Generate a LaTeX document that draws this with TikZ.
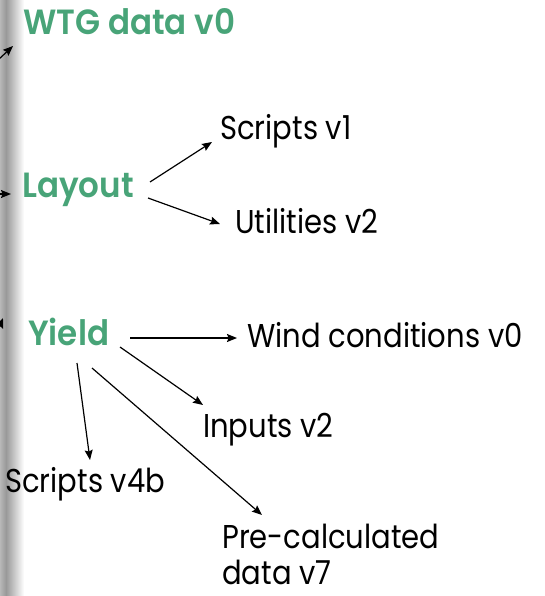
\documentclass[tikz,border=0pt]{standalone}
\usepackage{fontspec}
\setmainfont{Poppins}
\newfontfamily\topicfont{Poppins SemiBold}[FakeStretch=0.93]
\newfontfamily\itemfont{Poppins}[FakeStretch=0.88]
\usepackage{tikz}
\usetikzlibrary{arrows.meta}

\definecolor{leafgreen}{RGB}{72,164,120}

\begin{document}
\begin{tikzpicture}[x=1pt,y=-1pt]
          \tikzstyle{every node}+=[inner sep=0pt,anchor=base west]
          \tikzstyle{topic}=[text=leafgreen,font=\topicfont\fontsize{35}{37}\selectfont]
          \tikzstyle{item}=[text=black,font=\itemfont\fontsize{33}{36}\selectfont]
          \tikzstyle{link}=[black,line width=1.2pt,-{Stealth[length=10pt,width=8pt,inset=1.5pt]}]
          \useasboundingbox (0,0) rectangle (545,596);
          % page edge shadow
          \shade [left color=black!28,right color=black!40] (0,0) rectangle (6,596);
          \shade [left color=black!40,right color=white] (6,0) rectangle (24,596);
          % topics
          \node [topic] (wtg) at (23,35) {WTG data v0};
          \node [topic] (lay) at (22,197) {Layout};
          \node [topic] (yld) at (28,345) {Yield};
          % items
          \node [item] (sv1) at (220,140) {Scripts v1};
          \node [item] (util) at (235,233) {Utilities v2};
          \node [item] (wind) at (247,347) {Wind conditions v0};
          \node [item] (inp) at (203,437) {Inputs v2};
          \node [item] (s4b) at (5,492) {Scripts v4b};
          \node [item,align=left] (pre) at (222,584) {Pre-calculated\\data v7};
          % incoming from the left
          \coordinate (inw) at (-2,60);
          \coordinate (inl) at (-2,194);
          \coordinate (iny) at (-1,328);
          \draw [link] (inw) -- ([shift={(-10,11)}]wtg.base west);
          \draw [link] (inl) -- ([shift={(-11,-3)}]lay.base west);
          \draw [link] (iny) -- ([shift={(-25,-27)}]yld.base west);
          % layout branches
          \draw [link] (150,182) -- ([shift={(-8,2)}]sv1.base west);
          \draw [link] (148,198) -- ([shift={(-15,-9)}]util.base west);
          % yield branches
          \draw [link] (130,338) -- ([shift={(-10,-9)}]wind.base west);
          \draw [link] (120,347) -- ([shift={(0,-32)}]inp.base west);
          \draw [link] ([shift={(49,18)}]yld.base west) -- ([shift={(85,-32)}]s4b.base west);
          \draw [link] ([shift={(64,23)}]yld.base west) -- ([shift={(40,-69)}]pre.base west);
        \end{tikzpicture}
\end{document}
